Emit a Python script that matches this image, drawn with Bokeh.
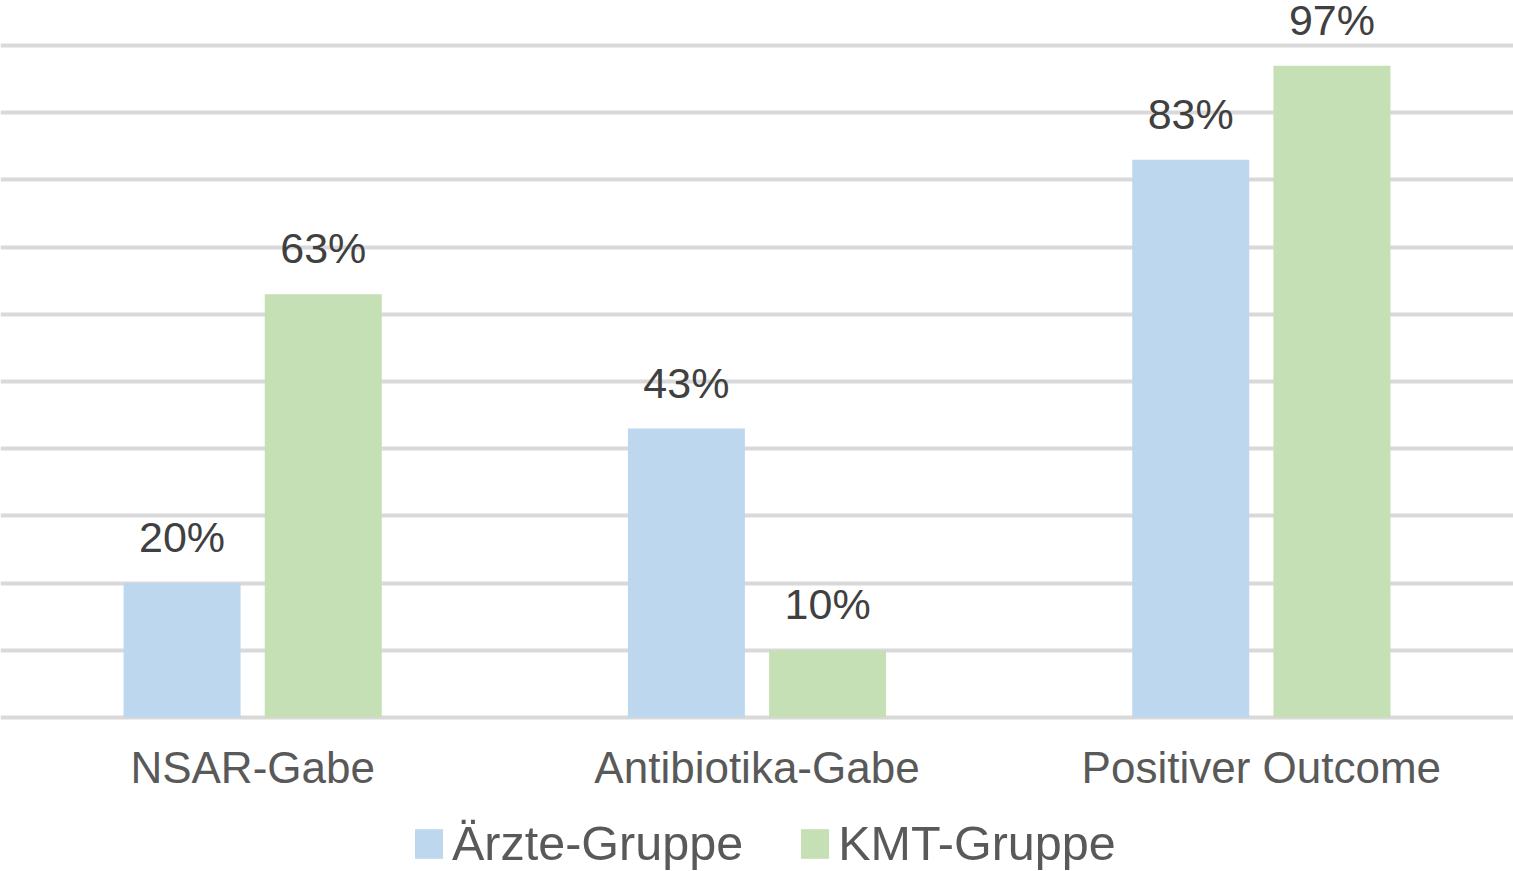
from bokeh.plotting import figure
from bokeh.models import (FactorRange, Range1d, FixedTicker, ColumnDataSource,
                          LabelSet, Legend, LegendItem)
from bokeh.transform import dodge
from bokeh.core.properties import value
from bokeh.embed import file_html
from bokeh.resources import INLINE

categories = ["NSAR-Gabe", "Antibiotika-Gabe", "Positiver Outcome"]
aerzte = [20, 43, 83]
kmt = [63, 10, 97]
series_names = ["Ärzte-Gruppe", "KMT-Gruppe"]
grid_ticks = [0, 10, 20, 30, 40, 50, 60, 70, 80, 90, 100]

colors = ["#BDD7EE", "#C5E0B4"]
FONT = "Liberation Sans"

source = ColumnDataSource(data=dict(
    cat=categories,
    zero=[0] * len(categories),
    aerzte=aerzte,
    kmt=kmt,
    aerzte_lbl=[f"{v}%" for v in aerzte],
    kmt_lbl=[f"{v}%" for v in kmt],
))

p = figure(x_range=FactorRange(*categories), y_range=Range1d(-22.92, 106.7),
           frame_width=1513, frame_height=871, min_border=0,
           output_backend="svg", toolbar_location=None)

off = 0.14
bw = 0.232
r1 = p.vbar(x=dodge("cat", -off, range=p.x_range), top="aerzte", width=bw,
            source=source, fill_color=colors[0], line_color=None)
r2 = p.vbar(x=dodge("cat", off, range=p.x_range), top="kmt", width=bw,
            source=source, fill_color=colors[1], line_color=None)

for col, o in (("aerzte", -off), ("kmt", off)):
    ls = LabelSet(x=dodge("cat", o, range=p.x_range), y=col, text=col + "_lbl",
                  source=source, text_align="center", text_baseline="alphabetic",
                  y_offset=31, text_font=value(FONT), text_font_size="43px",
                  text_color="#404040")
    p.add_layout(ls)

# category labels below the baseline
cat_labels = LabelSet(x="cat", y="zero", text="cat", source=source,
                      text_align="center", text_baseline="middle", y_offset=-50,
                      text_font=value(FONT), text_font_size="44px",
                      text_color="#595959")
p.add_layout(cat_labels)

p.xaxis.visible = False
p.yaxis.visible = False
p.ygrid.ticker = FixedTicker(ticks=grid_ticks)
p.ygrid.grid_line_color = "#D9D9D9"
p.ygrid.grid_line_width = 4
p.xgrid.grid_line_color = None
p.outline_line_color = None

legend = Legend(items=[LegendItem(label=series_names[0], renderers=[r1]),
                       LegendItem(label=series_names[1], renderers=[r2])],
                orientation="horizontal", location=(411, 0),
                glyph_width=35, glyph_height=37, label_standoff=6, spacing=54,
                padding=0, margin=0, border_line_color=None,
                background_fill_alpha=0,
                label_text_font=FONT, label_text_font_size="48.5px",
                label_text_color="#595959")
p.add_layout(legend)

open("out.html", "w").write(file_html(p, INLINE))
